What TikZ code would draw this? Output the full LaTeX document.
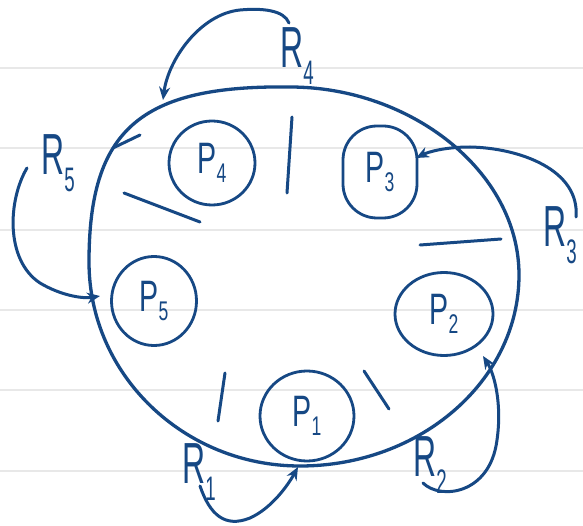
\documentclass[tikz,border=0pt]{standalone}
\usepackage{fontspec}
\setmainfont{Liberation Sans}
\usetikzlibrary{arrows.meta,shapes.geometric}
\definecolor{ink}{RGB}{22,72,132}
\definecolor{ruleline}{RGB}{232,232,232}
\newcommand\rlab[1]{\scalebox{0.55}[1]{\fontsize{58}{58}\selectfont R\raisebox{-0.3em}{\fontsize{34}{34}\selectfont #1}}}
\newcommand\plab[1]{\scalebox{0.65}[1]{\fontsize{44}{44}\selectfont P\raisebox{-0.22em}{\fontsize{27}{27}\selectfont #1}}}
\begin{document}
\begin{tikzpicture}[x=1pt,y=-1pt,
  proc/.style={draw=ink, line width=2.8, ellipse, inner sep=0pt, text=ink},
  lab/.style={text=ink, inner sep=0pt},
  sepline/.style={draw=ink, line width=3, line cap=round},
  ringline/.style={draw=ink, line width=3.3},
  arr/.style={draw=ink, line width=3, line cap=round, -{Stealth[length=13pt,width=11pt]}}]
\useasboundingbox (0,0) rectangle (583,526);
\fill[white] (0,0) rectangle (583,526);
\foreach \yy in {68,148,230,310,390,471}
  \draw[ruleline, line width=2] (0,\yy) -- (583,\yy);

% outer ring
\draw[ringline] (290,87) .. controls (410,87) and (519,171) .. (519,275)
  .. controls (519,380) and (421,466) .. (300,466)
  .. controls (184,466) and (89,375) .. (89,262)
  .. controls (89,130) and (140,85) .. cycle;

% processes
\node[proc, minimum width=86, minimum height=84] (p4) at (212,163) {\plab{4}};
\node[proc, rectangle, rounded corners=34, minimum width=74, minimum height=92] (p3) at (380,172) {\plab{3}};
\node[proc, minimum width=85, minimum height=89] (p5) at (154,301) {\plab{5}};
\node[proc, minimum width=98, minimum height=83] (p2) at (444,314) {\plab{2}};
\node[proc, minimum width=94, minimum height=90] (p1) at (307,416) {\plab{1}};

% separators
\draw[sepline] (292,117) -- (287,193);
\draw[sepline] (124,193) -- (200,222);
\draw[sepline] (420,245) -- (501,239);
\draw[sepline] (225,373) -- (218,421);
\draw[sepline] (364,371) -- (389,409);
\draw[sepline] (113,148) -- (140,135);

% resources
\node[lab] (r4) at (297,56) {\rlab{4}};
\node[lab] (r5) at (58,163) {\rlab{5}};
\node[lab] (r3) at (560,235) {\rlab{3}};
\node[lab] (r1) at (199,472) {\rlab{1}};
\node[lab] (r2) at (430,465) {\rlab{2}};

% connector end points
\coordinate (r4s) at (289,23);
\coordinate (ring4) at (163,100);
\coordinate (r5s) at (27,168);
\coordinate (ring5) at (100,296);
\coordinate (r3s) at (576,217);
\coordinate (p3e) at (416,158);
\coordinate (r2s) at (423,483);
\coordinate (p2e) at (483,356);
\coordinate (r1s) at (200,486);
\coordinate (ring1) at (298,467);

\draw[arr] (r4s) .. controls (284,10) and (262,8) .. (240,10) .. controls (200,14) and (168,60) .. (ring4);
\draw[arr] (r5s) .. controls (8,200) and (5,260) .. (40,283) .. controls (60,295) and (82,299) .. (ring5);
\draw[arr] (r3s) .. controls (580,170) and (520,148) .. (470,147) .. controls (445,147) and (428,152) .. (p3e);
\draw[arr] (r2s) .. controls (440,500) and (490,495) .. (497,440) .. controls (502,405) and (495,375) .. (p2e);
\draw[arr] (r1s) .. controls (210,515) and (225,528) .. (250,518) .. controls (272,508) and (288,485) .. (ring1);
\end{tikzpicture}
\end{document}
